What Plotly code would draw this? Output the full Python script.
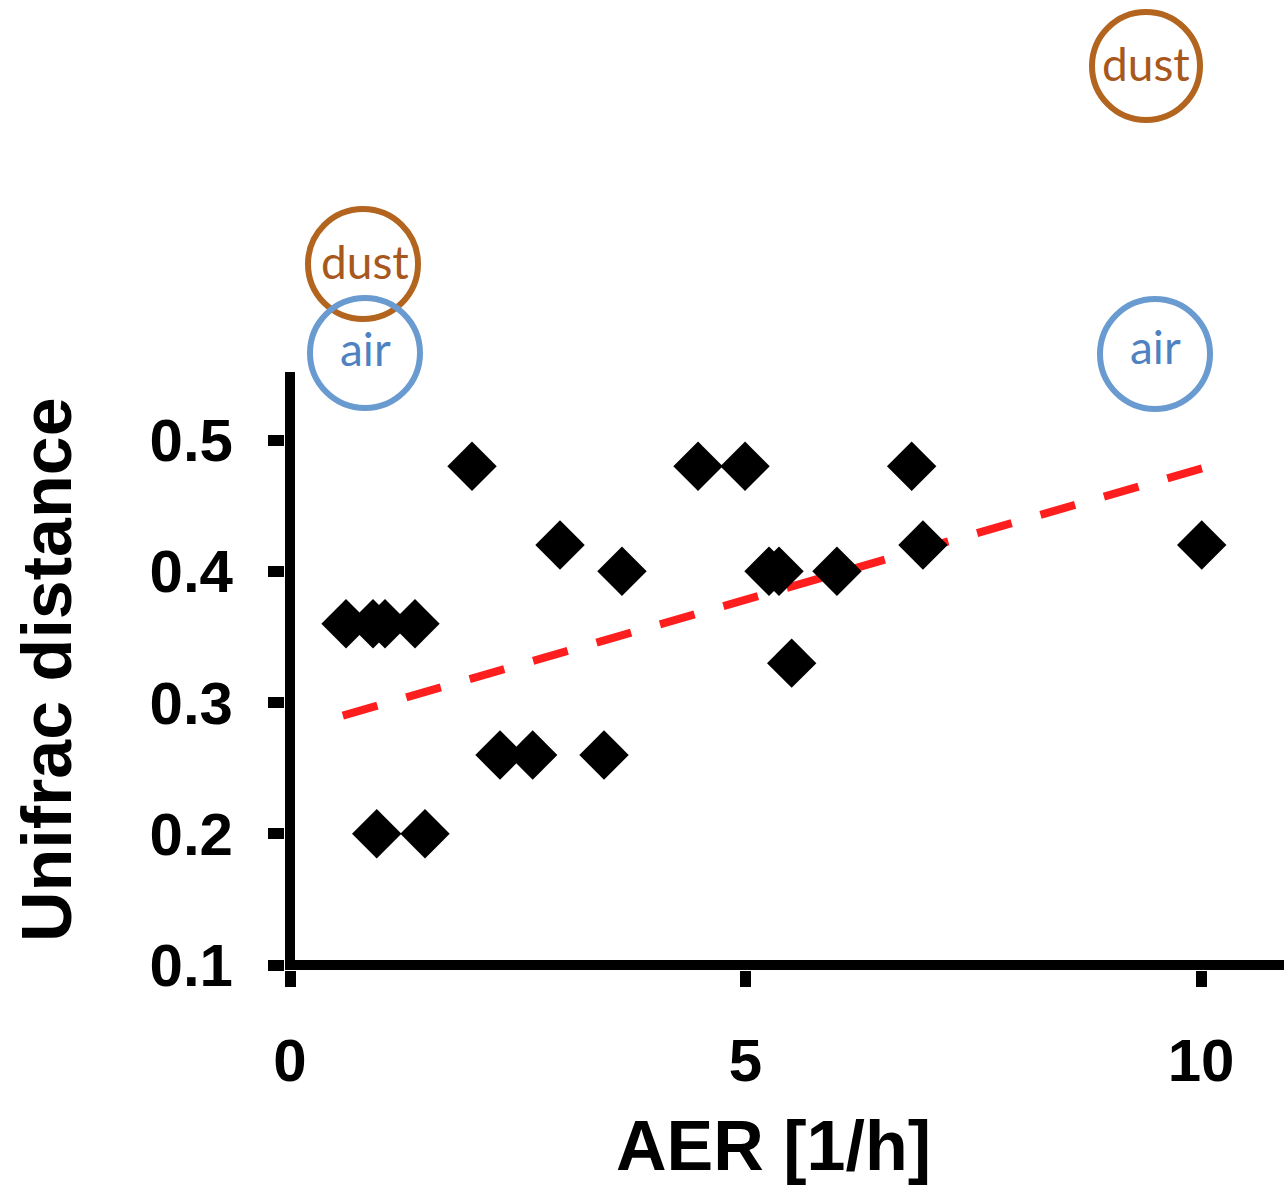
import plotly.graph_objects as go

# ---- data ----
aer = [0.615, 0.911, 1.043, 1.372, 0.952, 1.482, 1.998, 2.305, 2.664, 3.447,
       2.964, 3.644, 4.479, 4.995, 5.258, 5.368, 5.507, 6.004, 6.824, 6.948, 10.008]
unifrac = [0.36, 0.36, 0.36, 0.36, 0.20, 0.20, 0.48, 0.26, 0.26, 0.26,
           0.42, 0.40, 0.48, 0.48, 0.40, 0.40, 0.33, 0.40, 0.48, 0.42, 0.42]
trend_x = [0.58, 10.04]
trend_y = [0.29, 0.479]

x_tickvals = [0, 5, 10]
x_ticktext = ["0", "5", "10"]
y_tickvals = [0.1, 0.2, 0.3, 0.4, 0.5]
y_ticktext = ["0.1", "0.2", "0.3", "0.4", "0.5"]

labels = ["dust", "air", "dust", "air"]

# ---- layout geometry ----
W, H = 1284, 1187
ML, MR, MT, MB = 285, 0, 372, 217
PW = W - ML - MR
PH = H - MT - MB


def px2paper(px, py):
    return (px - ML) / PW, (H - MB - py) / PH


fig = go.Figure()

fig.add_trace(go.Scatter(
    x=trend_x, y=trend_y, mode="lines",
    line=dict(color="#FF1E1E", width=8, dash="36px,30px"),
    hoverinfo="skip", showlegend=False))

fig.add_trace(go.Scatter(
    x=aer, y=unifrac, mode="markers",
    marker=dict(symbol="diamond", size=38, color="black", line=dict(width=0)),
    showlegend=False))

font_main = "Liberation Sans, Arial, sans-serif"

fig.update_layout(
    width=W, height=H,
    margin=dict(l=ML, r=MR, t=MT, b=MB, pad=0),
    paper_bgcolor="white", plot_bgcolor="white",
    xaxis=dict(range=[-5 / 91.1, 994 / 91.1], showgrid=False, zeroline=False,
               showline=False, ticks="outside", ticklen=16, tickwidth=11,
               tickcolor="black", tickvals=x_tickvals, ticktext=x_ticktext,
               tickfont=dict(family=font_main, size=60, color="black", weight="bold"),
               ticklabelstandoff=22),
    yaxis=dict(range=[0.1 - 5 / 1312.5, 0.5 + 68 / 1312.5], showgrid=False,
               zeroline=False, showline=False, ticks="outside", ticklen=16,
               tickwidth=11, tickcolor="black", tickvals=y_tickvals,
               ticktext=y_ticktext,
               tickfont=dict(family=font_main, size=60, color="black", weight="bold"),
               ticklabelstandoff=23),
)

# axis lines
fig.add_shape(type="line", xref="paper", yref="y", x0=0, x1=1, y0=0.1, y1=0.1,
              line=dict(color="black", width=10), layer="above")
fig.add_shape(type="line", xref="x", yref="paper", x0=0, x1=0, y0=0, y1=1,
              line=dict(color="black", width=10), layer="above")

# axis titles
ax, ay = px2paper(773, 1146)
fig.add_annotation(text="<b>AER [1/h]</b>", xref="paper", yref="paper", x=ax, y=ay,
                   xanchor="center", yanchor="middle", showarrow=False,
                   font=dict(family=font_main, size=70, color="black"))
ax, ay = px2paper(47, 670)
fig.add_annotation(text="<b>Unifrac distance</b>", xref="paper", yref="paper", x=ax, y=ay,
                   xanchor="center", yanchor="middle", showarrow=False, textangle=-90,
                   font=dict(family=font_main, size=70, color="black"))

# circled labels
brown_line, brown_text = "#B3641F", "#A8581C"
blue_line, blue_text = "#6A9BD0", "#4F82C0"
circles = [  # center px, radius, label index
    (363, 264, 55, 0),
    (365, 353, 55, 1),
    (1146, 66, 54, 2),
    (1155, 354, 55, 3),
]
text_pos = [(365, 262), (365, 348), (1146, 64), (1155, 347)]
for (cx, cy, r, li), (tx, ty) in zip(circles, text_pos):
    lab = labels[li]
    lc = brown_line if lab == "dust" else blue_line
    tc = brown_text if lab == "dust" else blue_text
    x0, y0 = px2paper(cx - r, cy + r)
    x1, y1 = px2paper(cx + r, cy - r)
    fig.add_shape(type="circle", xref="paper", yref="paper", x0=x0, x1=x1, y0=y0, y1=y1,
                  line=dict(color=lc, width=6), fillcolor="rgba(0,0,0,0)", layer="above")
    txp, typ = px2paper(tx, ty)
    fig.add_annotation(text=lab, xref="paper", yref="paper", x=txp, y=typ,
                       xanchor="center", yanchor="middle", showarrow=False,
                       font=dict(family="Lato, Open Sans, sans-serif", size=46, color=tc))

fig.write_html("out.html")
